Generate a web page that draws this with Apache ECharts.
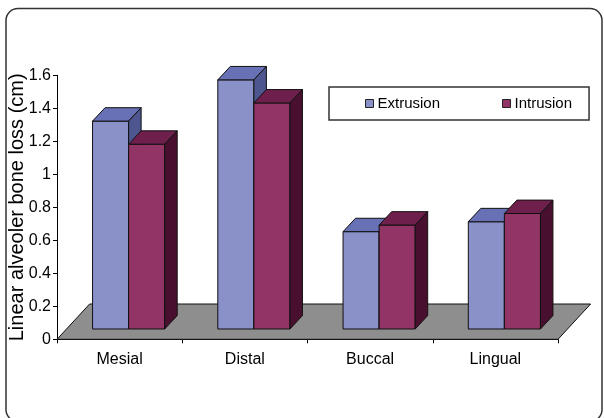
<!DOCTYPE html>
<html>
<head>
<meta charset="utf-8">
<script src="https://cdn.jsdelivr.net/npm/echarts@6/dist/echarts.min.js"></script>
<style>
html,body{margin:0;padding:0;background:#fff;}
#chart{width:604px;height:418px;}
</style>
</head>
<body>
<div id="chart"></div>
<script>
// ---- data ----
var categories = ['Mesial', 'Distal', 'Buccal', 'Lingual'];
var extrusion = [1.26, 1.51, 0.59, 0.65];
var intrusion = [1.12, 1.37, 0.63, 0.70];
var seriesNames = ['Extrusion', 'Intrusion'];
var yMin = 0, yMax = 1.6, yStep = 0.2;
var yTitle = 'Linear alveoler bone loss (cm)';

// ---- styling / geometry ----
var FONT = "'Liberation Sans Narrow','Liberation Sans',Arial,sans-serif";
var FACES = [
  { front: '#8a90c8', top: '#6870b6', side: '#4e5690' },
  { front: '#933466', top: '#6e1f4c', side: '#48102e' }
];
var FX = 9, FY = -10.3;      // bar front offset from axis plane
var DX = 12.5, DY = -13.4;   // bar depth
var FLOOR_DX = 32.6, FLOOR_DY = -35.3;
var BAR_FRAC = 0.288;
var EDGE = '#111';

function makeBarRenderer(k) {
  return function (params, api) {
    var ci = api.value(0), v = api.value(1);
    var base = api.coord([ci, 0]);
    var topPt = api.coord([ci, v]);
    var band = api.size([1, 0])[0];
    var bw = band * BAR_FRAC;
    var x0 = base[0] + FX - bw + k * bw;
    var yb = base[1] + FY;
    var h = base[1] - topPt[1];
    var yt = yb - h;
    var st = { stroke: EDGE, lineWidth: 1, lineJoin: 'round' };
    return {
      type: 'group',
      children: [
        { type: 'rect', shape: { x: x0, y: yt, width: bw, height: h },
          style: Object.assign({ fill: FACES[k].front }, st) },
        { type: 'polygon', shape: { points: [[x0, yt], [x0 + bw, yt], [x0 + bw + DX, yt + DY], [x0 + DX, yt + DY]] },
          style: Object.assign({ fill: FACES[k].top }, st) },
        { type: 'polygon', shape: { points: [[x0 + bw, yt], [x0 + bw + DX, yt + DY], [x0 + bw + DX, yb + DY], [x0 + bw, yb]] },
          style: Object.assign({ fill: FACES[k].side }, st) }
      ]
    };
  };
}

function renderFloor(params, api) {
  var cs = params.coordSys;
  var x0 = cs.x, y0 = cs.y + cs.height, x1 = cs.x + cs.width;
  return {
    type: 'polygon',
    shape: { points: [[x0, y0], [x1, y0], [x1 + FLOOR_DX, y0 + FLOOR_DY], [x0 + FLOOR_DX, y0 + FLOOR_DY]] },
    style: { fill: '#8e8e8e', stroke: EDGE, lineWidth: 1 }
  };
}

var chart = echarts.init(document.getElementById('chart'), null, { renderer: 'canvas' });

var option = {
  backgroundColor: '#fff',
  animation: false,
  graphic: [{
    type: 'rect', z: 100, silent: true,
    shape: { x: 6, y: 8.5, width: 596, height: 413, r: 12 },
    style: { fill: 'none', stroke: '#333', lineWidth: 1.5 }
  }],
  legend: {
    data: seriesNames,
    left: 329, top: 87,
    orient: 'horizontal',
    itemWidth: 8, itemHeight: 8, itemGap: 62,
    icon: 'rect',
    padding: [9, 17, 9, 36],
    borderColor: '#333', borderWidth: 1.5,
    itemStyle: { borderColor: '#222', borderWidth: 1 },
    textStyle: { fontFamily: FONT, fontSize: 15, color: '#000', padding: [0, 0, 0, -1] }
  },
  grid: { left: 57, right: 46, top: 75.3, bottom: 78.7, containLabel: false, outerBoundsMode: 'none' },
  xAxis: {
    type: 'category',
    data: categories,
    boundaryGap: true,
    axisLine: { show: true, lineStyle: { color: '#000', width: 1 } },
    axisTick: { show: true, length: 4, interval: 0, lineStyle: { color: '#000' } },
    axisLabel: { margin: 12, fontFamily: FONT, fontSize: 16, color: '#000' },
    splitLine: { show: false }
  },
  yAxis: {
    type: 'value',
    min: yMin, max: yMax, interval: yStep,
    name: yTitle,
    nameLocation: 'middle',
    nameGap: 30,
    nameMoveOverlap: false,
    nameTextStyle: { fontFamily: FONT, fontSize: 20, color: '#000' },
    axisLine: { show: true, lineStyle: { color: '#000', width: 1 } },
    axisTick: { show: true, length: 4, lineStyle: { color: '#000' } },
    axisLabel: { margin: 6, fontFamily: FONT, fontSize: 16, color: '#000' },
    splitLine: { show: false }
  },
  series: [
    {
      type: 'custom', name: 'floor', silent: true, z: 1,
      renderItem: renderFloor,
      data: [[0, 0]],
      encode: { x: 0, y: 1 }
    },
    {
      type: 'custom', name: seriesNames[0], z: 2,
      renderItem: makeBarRenderer(0),
      itemStyle: { color: FACES[0].front },
      data: extrusion.map(function (v, i) { return [i, v]; }),
      encode: { x: 0, y: 1 }
    },
    {
      type: 'custom', name: seriesNames[1], z: 3,
      renderItem: makeBarRenderer(1),
      itemStyle: { color: FACES[1].front },
      data: intrusion.map(function (v, i) { return [i, v]; }),
      encode: { x: 0, y: 1 }
    }
  ]
};
chart.setOption(option);
</script>
</body>
</html>
